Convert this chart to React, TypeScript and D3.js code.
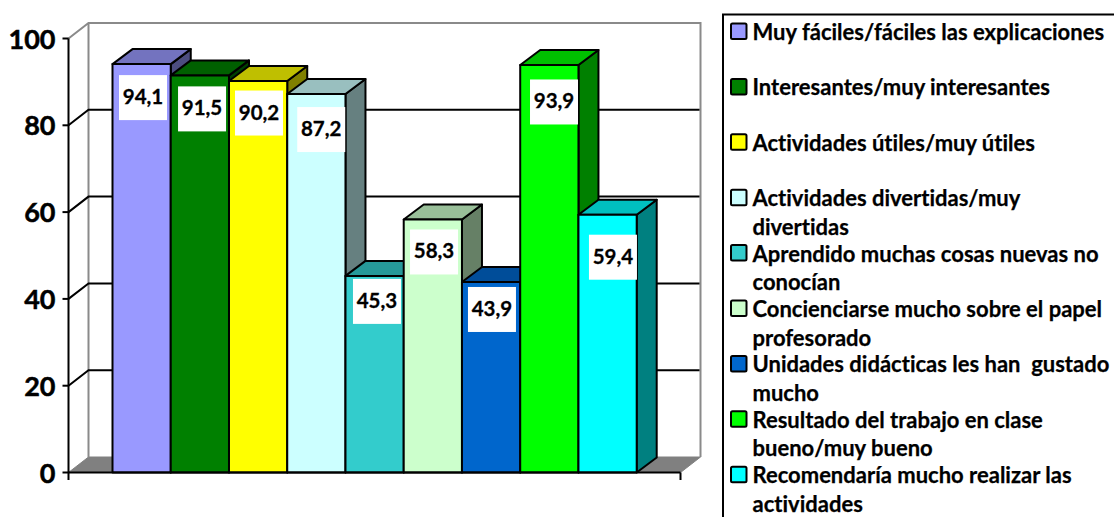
import React from "react";
import * as d3 from "d3";

const categories = [
  "Muy fáciles/fáciles las explicaciones",
  "Interesantes/muy interesantes",
  "Actividades útiles/muy útiles",
  "Actividades divertidas/muy divertidas",
  "Aprendido muchas cosas nuevas no conocían",
  "Concienciarse mucho sobre el papel profesorado",
  "Unidades didácticas les han  gustado mucho",
  "Resultado del trabajo en clase bueno/muy bueno",
  "Recomendaría mucho realizar las actividades",
];
const legendLines = [
  ["Muy fáciles/fáciles las explicaciones"],
  ["Interesantes/muy interesantes"],
  ["Actividades útiles/muy útiles"],
  ["Actividades divertidas/muy", "divertidas"],
  ["Aprendido muchas cosas nuevas no", "conocían"],
  ["Concienciarse mucho sobre el papel", "profesorado"],
  ["Unidades didácticas les han  gustado", "mucho"],
  ["Resultado del trabajo en clase", "bueno/muy bueno"],
  ["Recomendaría mucho realizar las", "actividades"],
];
const values = [94.1, 91.5, 90.2, 87.2, 45.3, 58.3, 43.9, 93.9, 59.4];
const colors = ["#9999FF", "#008000", "#FFFF00", "#CCFFFF", "#33CCCC", "#CCFFCC", "#0066CC", "#00FF00", "#00FFFF"];
const yTicks = [0, 20, 40, 60, 80, 100];

// manual label placement relative to each bar's top-left corner
const labelDx = [6.5, 7.3, 6, 10, 7.5, 6.3, 6, 9.8, 10.5];
const labelDy = [11, 11, 9.5, 13, 3, 10, 5, 14.5, 20];

const FONT = "Lato, sans-serif";
const y = d3.scaleLinear().domain([0, 100]).range([472.5, 38.5]);
const x = d3.scaleBand<string>().domain(categories).range([112.5, 636.7]).padding(0);
const DX = 20;
const DY = 15.5;
const AX = 68.5;
const AR = 680.5;
const shade = (c: string, k: number) => {
  const r = d3.rgb(c);
  return d3.rgb(r.r * k, r.g * k, r.b * k).formatHex();
};
const pts = (p: number[][]) => p.map((q) => q.join(",")).join(" ");

export default function App() {
  const bw = x.bandwidth();
  return (
    <svg width={1114} height={517} style={{ position: "absolute", left: 0, top: 0, background: "#fff", fontVariantLigatures: "none" }}>
      {/* walls */}
      <polygon points={pts([[AX, y(0)], [AX + DX, y(0) - DY], [AR + DX, y(0) - DY], [AR, y(0)]])} fill="#808080" stroke="#808080" strokeWidth={1} />
      <path
        d={`M${AX},${y(100)}L${AX + DX},${y(100) - DY}H${AR + DX}V${y(0) - DY}M${AX + DX},${y(100) - DY}V${y(0) - DY}`}
        fill="none" stroke="#8a8a8a" strokeWidth={2}
      />
      {yTicks.filter((t) => t > 0 && t < 100).map((t) => (
        <path key={t} d={`M${AX},${y(t)}L${AX + DX},${y(t) - DY}H${AR + DX - 1}`} fill="none" stroke="#000" strokeWidth={2} />
      ))}
      {/* bars */}
      {categories.map((c, i) => {
        const x0 = x(c)!;
        const top = y(values[i]);
        const base = y(0);
        return (
          <g key={c} stroke="#000" strokeWidth={2} strokeLinejoin="round">
            <polygon points={pts([[x0 + bw, top], [x0 + bw + DX, top - 15], [x0 + bw + DX, base - 15], [x0 + bw, base]])} fill={shade(colors[i], 0.5)} />
            <polygon points={pts([[x0, top], [x0 + DX, top - 15], [x0 + bw + DX, top - 15], [x0 + bw, top]])} fill={shade(colors[i], 0.75)} />
            <rect x={x0} y={top} width={bw} height={base - top} fill={colors[i]} />
          </g>
        );
      })}
      {/* data labels */}
      {categories.map((c, i) => {
        const bx = x(c)! + labelDx[i];
        const by = y(values[i]) + labelDy[i];
        return (
          <g key={c}>
            <rect x={bx} y={by} width={48} height={45} fill="#fff" />
            <text x={bx + 24} y={by + 29} textAnchor="middle" fontFamily={FONT} fontWeight={700} fontSize={20.5} fill="#000" stroke="#000" strokeWidth={0.3}>
              {d3.format(".1f")(values[i]).replace(".", ",")}
            </text>
          </g>
        );
      })}
      {/* axes */}
      <path d={`M${AX},${y(100)}V480M${AR},${y(0)}V480M${AX},${y(0)}H${AR}`} fill="none" stroke="#000" strokeWidth={2} />
      {yTicks.map((t) => (
        <g key={t}>
          <line x1={AX - 6} x2={AX} y1={y(t)} y2={y(t)} stroke="#000" strokeWidth={2} />
          <text x={55.5} y={y(t) + 10} textAnchor="end" fontFamily={FONT} fontWeight={700} fontSize={27} fill="#000" stroke="#000" strokeWidth={0.5}>{t}</text>
        </g>
      ))}
      {/* legend */}
      <path d="M723,517V14.5H1114" fill="none" stroke="#000" strokeWidth={2} />
      {legendLines.map((lines, i) => {
        const base = 40 + 55.4 * i;
        return (
          <g key={i}>
            <rect x={731} y={base - 16.5} width={15.5} height={15.5} rx={1.5} fill={colors[i]} stroke="#000" strokeWidth={2} />
            {lines.map((l, j) => (
              <text key={j} x={752.5} y={base + j * 28.5} fontFamily={FONT} fontWeight={700} fontSize={22} fill="#000" stroke="#000" strokeWidth={0.25} style={{ whiteSpace: "pre" }}>{l}</text>
            ))}
          </g>
        );
      })}
    </svg>
  );
}
